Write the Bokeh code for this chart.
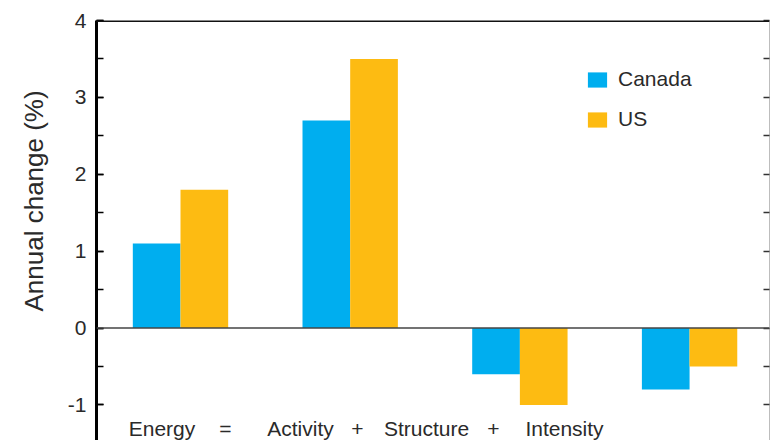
import math
from bokeh.plotting import figure
from bokeh.models import (ColumnDataSource, Range1d, LinearAxis, SingleIntervalTicker,
                          Span, Label, Legend, LegendItem, NumeralTickFormatter,
                          CustomJSTickFormatter, Title)
from bokeh.transform import dodge
from bokeh.embed import file_html
from bokeh.resources import INLINE

# ---- data ----
categories = ["Energy", "Activity", "Structure", "Intensity"]
canada = [1.1, 2.7, -0.6, -0.8]
us = [1.8, 3.5, -1.0, -0.5]
series_names = ["Canada", "US"]
equation_tokens = ["Energy", "=", "Activity", "+", "Structure", "+", "Intensity"]
y_label = "Annual change (%)"

# ---- layout / style ----
FONT = "Liberation Sans"
BLUE = "#00AEEF"
GOLD = "#FDBB12"
TXT = "#2a2a2a"
eq_x = [-0.109, 0.265, 0.707, 1.043, 1.45, 1.844, 2.263]
eq_y = -1.307

idx = list(range(len(categories)))
src = ColumnDataSource(dict(x=idx, cat=categories, canada=canada, us=us))

p = figure(width=771, height=440, output_backend="svg", toolbar_location=None,
           x_range=Range1d(-0.495, 3.471), y_range=Range1d(-1.463, 4.0),
           min_border_left=96, min_border_right=2, min_border_top=20, min_border_bottom=0,
           x_axis_location=None, y_axis_location=None)
p.outline_line_color = None
p.xgrid.visible = False
p.ygrid.visible = False
p.background_fill_color = "white"

bw = 0.281
r1 = p.vbar(x=dodge("x", -bw / 2, range=p.x_range), top="canada", bottom=0, width=bw,
            source=src, fill_color=BLUE, line_color=None)
r2 = p.vbar(x=dodge("x", bw / 2, range=p.x_range), top="us", bottom=0, width=bw,
            source=src, fill_color=GOLD, line_color=None)

# left axis
left = LinearAxis(ticker=SingleIntervalTicker(interval=1, num_minor_ticks=2),
                  formatter=NumeralTickFormatter(format="0"))
left.axis_line_width = 3
left.axis_line_color = "black"
left.major_tick_in = 7
left.major_tick_out = 0
left.minor_tick_in = 7
left.minor_tick_out = 0
left.major_tick_line_width = 1.5
left.minor_tick_line_width = 1.5
left.major_tick_line_color = "black"
left.minor_tick_line_color = "black"
left.major_label_text_font = FONT
left.major_label_text_font_size = "21px"
left.major_label_text_color = TXT
left.major_label_standoff = 10
p.add_layout(left, "left")

# y axis label as a side title
p.add_layout(Title(text=y_label, align="left", offset=129, standoff=31,
                   text_font=FONT, text_font_size="26px", text_font_style="normal",
                   text_color=TXT), "left")

# right axis (ticks only)
right = LinearAxis(ticker=SingleIntervalTicker(interval=0.5, num_minor_ticks=0),
                   formatter=CustomJSTickFormatter(code="return ''"))
right.axis_line_color = "#bdbdbd"
right.axis_line_width = 1
right.major_tick_in = 6
right.major_tick_out = 0
right.minor_tick_in = 0
right.minor_tick_out = 0
right.major_tick_line_color = "#333333"
right.major_tick_line_width = 1.5
right.major_label_standoff = 0
p.add_layout(right, "right")

# top border and zero line
p.add_layout(Span(location=4.0, dimension="width", line_color="#111111", line_width=3))
p.add_layout(Span(location=0, dimension="width", line_color="#444444", line_width=1.5))

# equation labels
for t, xx in zip(equation_tokens, eq_x):
    p.add_layout(Label(x=xx, y=eq_y, text=t, text_align="center", text_baseline="alphabetic",
                       text_font=FONT, text_font_size="21px", text_color=TXT))

legend = Legend(items=[LegendItem(label=series_names[0], renderers=[r1]),
                       LegendItem(label=series_names[1], renderers=[r2])],
                location=(489, 309), orientation="vertical")
legend.glyph_width = 24
legend.glyph_height = 19
legend.label_height = 19
legend.spacing = 16
legend.padding = 0
legend.margin = 0
legend.label_standoff = 9
legend.label_text_font = FONT
legend.label_text_font_size = "21px"
legend.label_text_color = TXT
legend.border_line_color = None
legend.background_fill_alpha = 0
p.add_layout(legend)

open("out.html", "w").write(file_html(p, INLINE))
